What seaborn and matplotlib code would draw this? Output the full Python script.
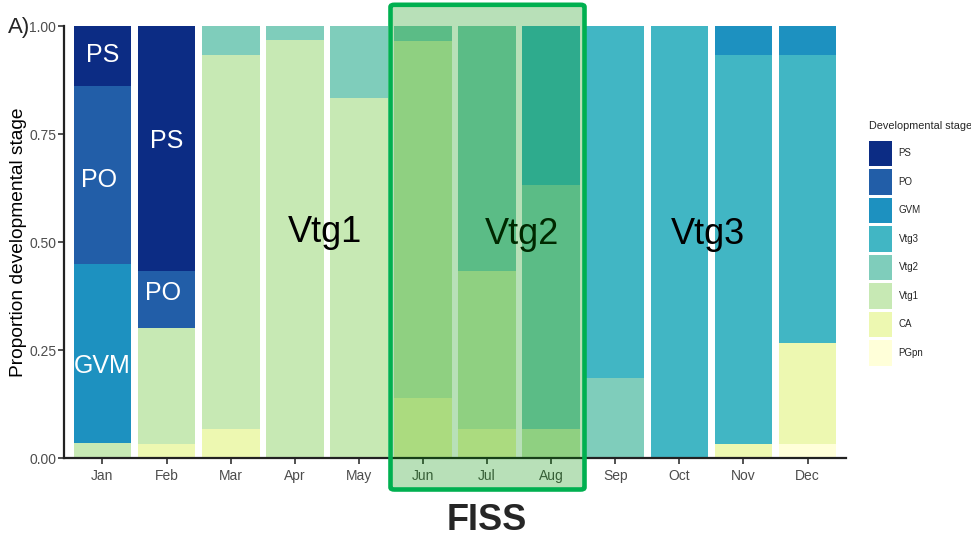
import matplotlib
matplotlib.use("Agg")
import matplotlib.pyplot as plt
import seaborn as sns
import pandas as pd
from matplotlib.patches import Patch, FancyBboxPatch

months = ["Jan", "Feb", "Mar", "Apr", "May", "Jun", "Jul", "Aug", "Sep", "Oct", "Nov", "Dec"]
stages = ["PS", "PO", "GVM", "Vtg3", "Vtg2", "Vtg1", "CA", "PGpn"]
colors = ["#0c2c84", "#225ea8", "#1d91c0", "#41b6c4", "#7fcdbb", "#c7e9b4", "#edf8b1", "#ffffd9"]

PS   = [0.138, 0.567, 0, 0, 0, 0, 0, 0, 0, 0, 0, 0]
PO   = [0.414, 0.133, 0, 0, 0, 0, 0, 0, 0, 0, 0, 0]
GVM  = [0.414, 0, 0, 0, 0, 0, 0, 0, 0, 0, 0.067, 0.067]
Vtg3 = [0, 0, 0, 0, 0, 0, 0, 0.367, 0.815, 1.0, 0.900, 0.666]
Vtg2 = [0, 0, 0.067, 0.033, 0.167, 0.034, 0.567, 0.566, 0.185, 0, 0, 0]
Vtg1 = [0.034, 0.267, 0.866, 0.967, 0.833, 0.828, 0.366, 0.067, 0, 0, 0, 0]
CA   = [0, 0.033, 0.067, 0, 0, 0.138, 0.067, 0, 0, 0, 0.033, 0.234]
PGpn = [0, 0, 0, 0, 0, 0, 0, 0, 0, 0, 0, 0.033]

series = {"PS": PS, "PO": PO, "GVM": GVM, "Vtg3": Vtg3, "Vtg2": Vtg2,
          "Vtg1": Vtg1, "CA": CA, "PGpn": PGpn}

rows = []
for i, m in enumerate(months):
    for s in stages:
        rows.append({"month": m, "stage": s, "prop": series[s][i]})
df = pd.DataFrame(rows)
df["month"] = pd.Categorical(df["month"], categories=months, ordered=True)

sns.set_style("white")
plt.rcParams["font.family"] = ["Liberation Sans", "DejaVu Sans"]

fig = plt.figure(figsize=(9.71, 5.38), dpi=100)
ax = fig.add_axes([64 / 971, 1 - 458 / 538, (846 - 64) / 971, (458 - 26) / 538])

sns.histplot(data=df, x="month", weights="prop", hue="stage", hue_order=stages,
             multiple="stack", discrete=True, shrink=0.9, palette=colors,
             linewidth=0, alpha=1, legend=False, ax=ax)

ax.set_xlim(-0.6, 11.6)
ax.set_ylim(0, 1)
ax.set_xticks(range(12))
ax.set_xticklabels(months)
ax.set_yticks([0, 0.25, 0.5, 0.75, 1.0])
ax.set_yticklabels(["0.00", "0.25", "0.50", "0.75", "1.00"])
ax.set_xlabel("")
ax.set_ylabel("Proportion developmental stage", fontsize=13.8, color="black")
ax.yaxis.set_label_coords(-0.047, 0.5)
for sp in ["top", "right"]:
    ax.spines[sp].set_visible(False)
for sp in ["left", "bottom"]:
    ax.spines[sp].set_color("#222222")
    ax.spines[sp].set_linewidth(1.6)
ax.tick_params(axis="both", which="both", direction="out", length=4, width=1.2,
               color="#333333", labelcolor="#4d4d4d", labelsize=10, bottom=True, left=True)
ax.tick_params(axis="x", pad=4)
ax.tick_params(axis="y", pad=1.5)

# in-bar labels
wl = dict(color="white", fontsize=18, ha="center", va="center")
ax.text(0, 0.933, "PS", **wl)
ax.text(-0.05, 0.643, "PO", **wl)
ax.text(0, 0.213, "GVM", **wl)
ax.text(1, 0.734, "PS", **wl)
ax.text(0.95, 0.382, "PO", **wl)
bl = dict(color="black", fontsize=26, ha="center", va="center")
ax.text(3.47, 0.522, "Vtg1", **bl)
ax.text(6.54, 0.517, "Vtg2", **bl)
ax.text(9.45, 0.517, "Vtg3", **bl)

fig.text(8 / 971, 1 - 27 / 538, "A)", fontsize=16, ha="left", va="center")
fig.text(487 / 971, 1 - 520 / 538, "FISS", fontsize=26, fontweight="bold", ha="center", va="center")

# FISS highlight box
x0, x1 = 390.5 / 971, 584.5 / 971
y0, y1 = 1 - 489.5 / 538, 1 - 4.8 / 538
box = FancyBboxPatch((x0, y0), x1 - x0, y1 - y0, boxstyle="round,pad=0,rounding_size=0.004",
                     transform=fig.transFigure, facecolor=(0, 145 / 255, 0, 0.28),
                     edgecolor="#00b050", linewidth=3.3, zorder=10)
fig.add_artist(box)

handles = [Patch(facecolor=c, edgecolor="none") for c in colors]
leg = fig.legend(handles, stages, loc="upper left", bbox_to_anchor=(869 / 971, 1 - 121 / 538),
                 frameon=False, title="Developmental stage", fontsize=7, title_fontsize=7.8,
                 handlelength=2.35, handleheight=3.66, labelspacing=0.31, handletextpad=0.7,
                 borderpad=0, borderaxespad=0, alignment="left")
leg._legend_box.sep = 7

fig.savefig("out.png", dpi=100)
